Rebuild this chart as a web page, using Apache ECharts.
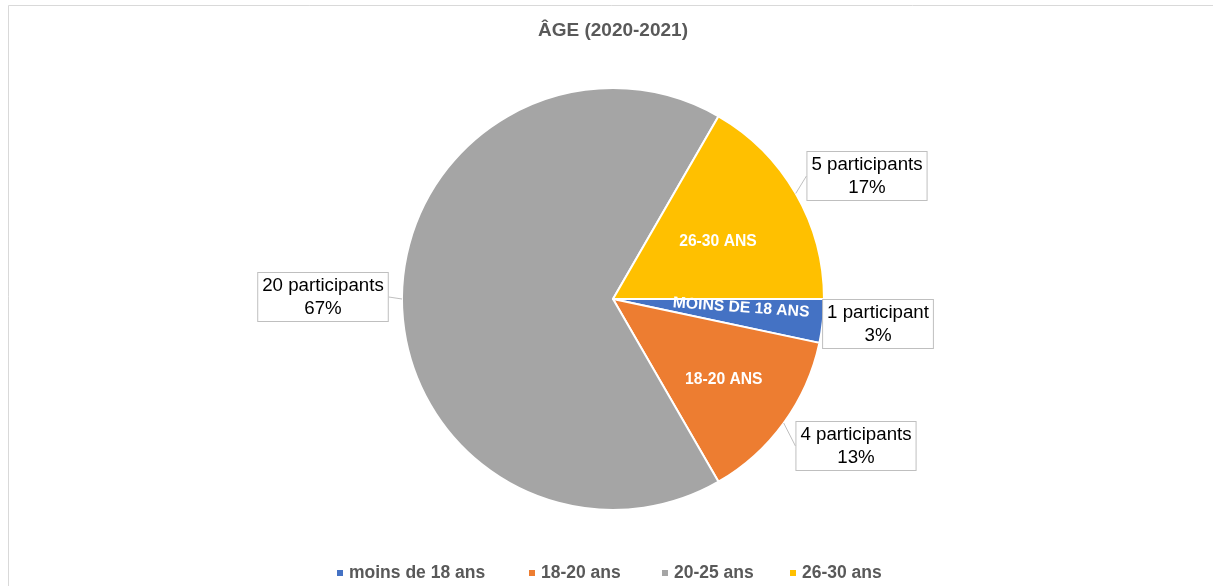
<!DOCTYPE html>
<html>
<head>
<meta charset="utf-8">
<script src="https://cdn.jsdelivr.net/npm/echarts@6/dist/echarts.min.js"></script>
<style>
html,body{margin:0;padding:0;background:#fff;}
#chart{width:1213px;height:586px;}
</style>
</head>
<body>
<div id="chart"></div>
<script>
const titleText = 'ÂGE (2020-2021)';
const categories = ['moins de 18 ans', '18-20 ans', '20-25 ans', '26-30 ans'];
const values = [1, 4, 20, 5];
const colors = ['#4472C4', '#ED7D31', '#A5A5A5', '#FFC000'];
const showInside = [true, true, false, true];

const FONT = '"Liberation Sans", Arial, sans-serif';
const center = [613, 299];
const R = 211;

// placement tweaks for labels (layout only)
const insideShift = [[20, -4], [23, 17], [0, 0], [11, -3]];
const calloutPos = [[878, 324], [856, 446], [323, 297], [867, 176]];
const legendLeft = [330, 522, 655, 783];

const chart = echarts.init(document.getElementById('chart'), null, {renderer: 'canvas'});

const option = {
  backgroundColor: '#fff',
  animation: false,
  color: colors,
  graphic: [{
    type: 'rect', silent: true, z: -1,
    shape: {x: 8.5, y: 5.5, width: 1400, height: 800},
    style: {fill: 'none', stroke: '#d9d9d9', lineWidth: 1}
  }],
  title: {
    text: titleText,
    left: 533, top: 16,
    textStyle: {fontFamily: FONT, fontSize: 19, fontWeight: 'bold', color: '#595959'}
  },
  legend: categories.map((c, i) => ({
    bottom: -1, left: legendLeft[i],
    icon: 'rect', itemWidth: 8, itemHeight: 8,
    textStyle: {fontFamily: FONT, fontSize: 17.5, fontWeight: 'bold', color: '#595959'},
    data: [c]
  })),
  series: [
    {
      type: 'pie',
      center: center, radius: [0, R],
      startAngle: 0, clockwise: true,
      avoidLabelOverlap: false,
      itemStyle: {borderColor: '#fff', borderWidth: 2},
      emphasis: {disabled: true},
      label: {
        show: true, position: 'inside',
        fontFamily: FONT, fontSize: 15.7, fontWeight: 'bold', color: '#fff',
        formatter: p => p.name.toUpperCase()
      },
      labelLine: {show: false},
      labelLayout: p => ({dx: insideShift[p.dataIndex][0], dy: insideShift[p.dataIndex][1]}),
      data: categories.map((c, i) => ({
        name: c, value: values[i],
        itemStyle: {color: colors[i]},
        label: {show: showInside[i], rotate: i === 0 ? -4 : 0}
      }))
    },
    {
      type: 'pie',
      center: center, radius: [0, R],
      startAngle: 0, clockwise: true,
      avoidLabelOverlap: false,
      silent: true,
      z: 3,
      itemStyle: {color: 'rgba(0,0,0,0)', borderWidth: 0},
      emphasis: {disabled: true},
      label: {
        show: true, position: 'outside',
        fontFamily: FONT, fontSize: 18.7, color: '#000',
        lineHeight: 23, align: 'center',
        backgroundColor: '#fff', borderColor: '#bfbfbf', borderWidth: 1,
        padding: [1, 4],
        formatter: p => p.value + ' participant' + (p.value > 1 ? 's' : '') + '\n' + Math.round(p.percent) + '%'
      },
      labelLine: {show: true, length: 8, length2: 0, lineStyle: {color: '#bfbfbf', width: 1}},
      labelLayout: p => ({
        x: calloutPos[p.dataIndex][0], y: calloutPos[p.dataIndex][1],
        align: 'center', verticalAlign: 'middle'
      }),
      data: categories.map((c, i) => ({name: c, value: values[i]}))
    }
  ]
};
chart.setOption(option);
</script>
</body>
</html>
